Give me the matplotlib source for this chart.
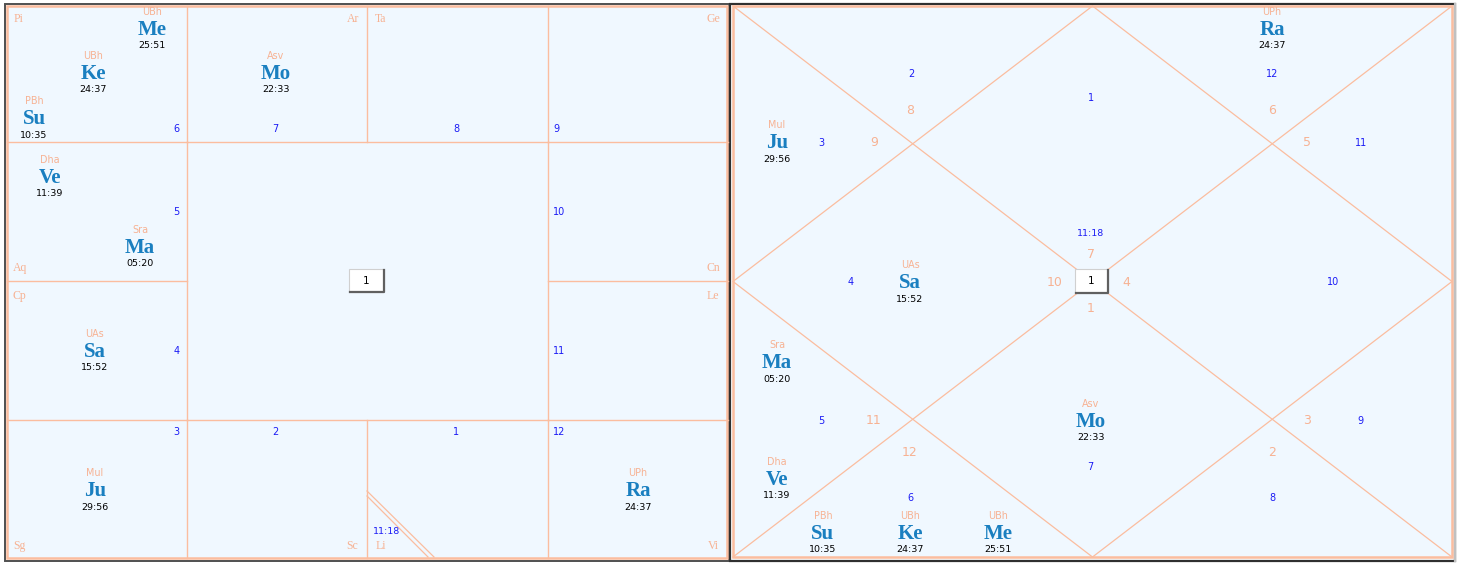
import matplotlib.pyplot as plt
from matplotlib.patches import Rectangle

# chart data
sign_names = ['Ar', 'Ta', 'Ge', 'Cn', 'Le', 'Vi', 'Li', 'Sc', 'Sg', 'Cp', 'Aq', 'Pi']
planets    = ['Su', 'Mo', 'Ma', 'Me', 'Ju', 'Ve', 'Sa', 'Ra', 'Ke']
nakshatras = ['PBh', 'Asv', 'Sra', 'UBh', 'Mul', 'Dha', 'UAs', 'UPh', 'UBh']
degrees    = ['10:35', '22:33', '05:20', '25:51', '29:56', '11:39', '15:52', '24:37', '24:37']
signs      = ['Pi', 'Ar', 'Aq', 'Pi', 'Sg', 'Aq', 'Cp', 'Vi', 'Pi']
lagna_sign = 'Li'
lagna_deg  = '11:18'

# colours
BG = '#f0f8ff'
LINE = '#fbbd9f'
SALMON = '#f7b293'
PBLUE = '#1a7fc0'
HBLUE = '#1c1cf5'

# layout (pixel coords)
south_planet_xy = {'Su': (34, 118), 'Mo': (276, 73), 'Ma': (140, 247), 'Me': (152, 29),
                   'Ju': (95, 490), 'Ve': (50, 177), 'Sa': (95, 351), 'Ra': (638, 490),
                   'Ke': (93, 73)}
north_planet_xy = {'Su': (823, 533), 'Mo': (1091, 421), 'Ma': (777, 362), 'Me': (998, 533),
                   'Ju': (777, 142), 'Ve': (777, 479), 'Sa': (910, 282), 'Ra': (1272, 29),
                   'Ke': (910, 533)}
south_sign_xy = {'Pi': (19, 19), 'Ar': (353, 19), 'Ta': (381, 19), 'Ge': (713, 19),
                 'Aq': (20, 268), 'Cn': (713, 268), 'Cp': (19, 296), 'Le': (713, 296),
                 'Sg': (19, 546), 'Sc': (352, 546), 'Li': (381, 546), 'Vi': (713, 546)}
south_house_xy = {'Pi': (176, 129), 'Ar': (275, 129), 'Ta': (456, 129), 'Ge': (556, 129),
                  'Aq': (176, 212), 'Cn': (559, 212), 'Cp': (177, 351), 'Le': (559, 351),
                  'Sg': (176, 432), 'Sc': (275, 432), 'Li': (456, 432), 'Vi': (559, 432)}
north_house_xy = [(1091, 98), (911, 74), (821, 143), (851, 282), (821, 421), (910, 498),
                  (1090, 467), (1272, 498), (1360, 421), (1333, 282), (1361, 143), (1272, 74)]
north_signno_xy = [(1091, 254), (910, 111), (874, 142), (1055, 282), (874, 421), (910, 452),
                   (1091, 308), (1272, 452), (1307, 421), (1126, 282), (1307, 142), (1272, 111)]

fig = plt.figure(figsize=(14.64, 5.63), dpi=100)
ax = fig.add_axes([0, 0, 1, 1])
ax.set_xlim(0, 1464)
ax.set_ylim(563, 0)
ax.axis('off')

lagna_idx = sign_names.index(lagna_sign)


def planet_block(x, y, p, nak, deg):
    ax.text(x, y - 17, nak, color=SALMON, fontsize=6.9, ha='center', va='center',
            family='DejaVu Sans')
    ax.text(x, y + 1, p, color=PBLUE, fontsize=15, fontweight='bold', ha='center',
            va='center', family='Liberation Serif')
    ax.text(x, y + 17, deg, color='black', fontsize=6.8, ha='center', va='center',
            family='DejaVu Sans')


def center_box(x0, y0, x1, y1):
    ax.add_patch(Rectangle((x0, y0), x1 - x0, y1 - y0, facecolor='white',
                           edgecolor='#d0d0d0', lw=0.8, zorder=5))
    ax.plot([x0 + 1, x1, x1], [y1, y1, y0 + 1], color='#606060', lw=1.6, zorder=6)
    ax.text((x0 + x1) / 2, (y0 + y1) / 2, '1', fontsize=7.5, ha='center', va='center',
            zorder=7, family='DejaVu Sans')


# ---- south indian chart (left)
ax.add_patch(Rectangle((5, 4), 724, 557, facecolor='none', edgecolor='#505050', lw=1.4))
ax.add_patch(Rectangle((7, 6), 720, 552, facecolor=BG, edgecolor=LINE, lw=1.8))
xs = [7, 187, 367, 548, 728]
ys = [6, 142, 281, 420, 558]
for x in xs[1:-1]:
    ax.plot([x, x], [ys[0], ys[1]], color=LINE, lw=1)
    ax.plot([x, x], [ys[3], ys[4]], color=LINE, lw=1)
for y in ys[1:-1]:
    ax.plot([xs[0], xs[1]], [y, y], color=LINE, lw=1)
    ax.plot([xs[3], xs[4]], [y, y], color=LINE, lw=1)
ax.plot([xs[1], xs[3]], [ys[1], ys[1]], color=LINE, lw=1)
ax.plot([xs[1], xs[3]], [ys[3], ys[3]], color=LINE, lw=1)
ax.plot([xs[1], xs[1]], [ys[1], ys[3]], color=LINE, lw=1)
ax.plot([xs[3], xs[3]], [ys[1], ys[3]], color=LINE, lw=1)

for s in sign_names:
    x, y = south_sign_xy[s]
    ax.text(x, y, s, color=SALMON, fontsize=8.5, ha='center', va='center',
            family='Liberation Serif')
    hx, hy = south_house_xy[s]
    house = (sign_names.index(s) - lagna_idx) % 12 + 1
    ax.text(hx, hy, str(house), color=HBLUE, fontsize=7, ha='center', va='center',
            family='DejaVu Sans')

for p, nak, deg in zip(planets, nakshatras, degrees):
    x, y = south_planet_xy[p]
    planet_block(x, y, p, nak, deg)

# lagna mark in Li cell
ax.plot([367, 434], [491, 557], color=LINE, lw=0.9)
ax.plot([367, 428], [496, 557], color=LINE, lw=0.9)
ax.text(387, 532, lagna_deg, color=HBLUE, fontsize=6.8, ha='center', va='center',
        family='DejaVu Sans')

center_box(349, 269, 384, 292)

# ---- north indian chart (right)
L, R, T, B = 733, 1452, 6, 557
ax.add_patch(Rectangle((730, 4), 725, 557, facecolor='none', edgecolor='#303030', lw=1.6))
ax.plot([1455, 1455], [4, 561], color='#c0c0c0', lw=1.6)
ax.add_patch(Rectangle((L, T), R - L, B - T, facecolor=BG, edgecolor=LINE, lw=1.8))
cx, cy = (L + R) / 2, (T + B) / 2
ax.plot([L, R], [T, B], color=LINE, lw=0.9)
ax.plot([L, R], [B, T], color=LINE, lw=0.9)
ax.plot([cx, R, cx, L, cx], [T, cy, B, cy, T], color=LINE, lw=0.9)

for h in range(12):
    x, y = north_house_xy[h]
    ax.text(x, y, str(h + 1), color=HBLUE, fontsize=7, ha='center', va='center',
            family='DejaVu Sans')
    sx, sy = north_signno_xy[h]
    sign_no = (lagna_idx + h) % 12 + 1
    ax.text(sx, sy, str(sign_no), color=SALMON, fontsize=9, ha='center', va='center',
            family='DejaVu Sans')

for p, nak, deg in zip(planets, nakshatras, degrees):
    x, y = north_planet_xy[p]
    planet_block(x, y, p, nak, deg)

ax.text(1091, 234, lagna_deg, color=HBLUE, fontsize=6.8, ha='center', va='center',
        family='DejaVu Sans')
center_box(1075, 269, 1108, 293)

fig.savefig('out.png', dpi=100, facecolor='white')
